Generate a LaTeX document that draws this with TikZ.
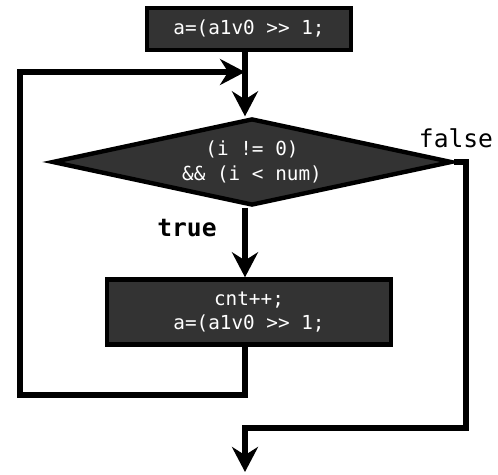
\documentclass[tikz,border=0pt]{standalone}
\usepackage{fontspec}
\setmonofont{DejaVu Sans Mono}
\usetikzlibrary{arrows.meta,shapes.geometric}

\begin{document}
\begin{tikzpicture}[
  x=0.02cm, y=-0.02cm,
  codebox/.style={rectangle, draw=black, line width=2.5pt, fill=black!80,
                  text=white, font=\ttfamily\fontsize{11}{14}\selectfont,
                  align=center, inner sep=0pt},
  decision/.style={diamond, draw=black, line width=2.5pt, fill=black!80,
                   text=white, font=\ttfamily\fontsize{11}{14}\selectfont,
                   align=center, aspect=4.65, inner sep=0pt,
                   minimum width=8.0cm, minimum height=1.74cm},
  branch/.style={font=\ttfamily\fontsize{14}{16}\selectfont, text=black},
  conn/.style={-{Stealth[length=0.5cm, width=0.52cm]}, line width=3pt, draw=black}
]
\useasboundingbox (0,0) rectangle (498,475);

\node[codebox, minimum width=4.08cm, minimum height=0.84cm] (init) at (249,29) {a=(a1v0 >> 1;};
\node[decision] (cond) at (252,162) {(i != 0)\\\&\& (i < num)};
\node[codebox, minimum width=5.68cm, minimum height=1.3cm] (body) at (249,312) {cnt++;\\a=(a1v0 >> 1;};

\node[branch, font=\ttfamily\bfseries\fontsize{14}{16}\selectfont] (truelbl) at (187,228) {true};
\node[branch] (falselbl) at (456,138) {false};

\coordinate (join) at (245,72);
\coordinate (back) at (20,395);
\coordinate (fcorner) at (466,428);
\coordinate (exit) at (245,472);

\draw[conn] (init.south -| join) -- (cond.north -| join);
\draw[conn] (cond.south -| join) -- (body.north -| join);
\draw[conn] (body.south -| join) |- (back) |- (join);
\draw[conn] (cond.east) -| (fcorner) -| (exit);
\end{tikzpicture}
\end{document}
